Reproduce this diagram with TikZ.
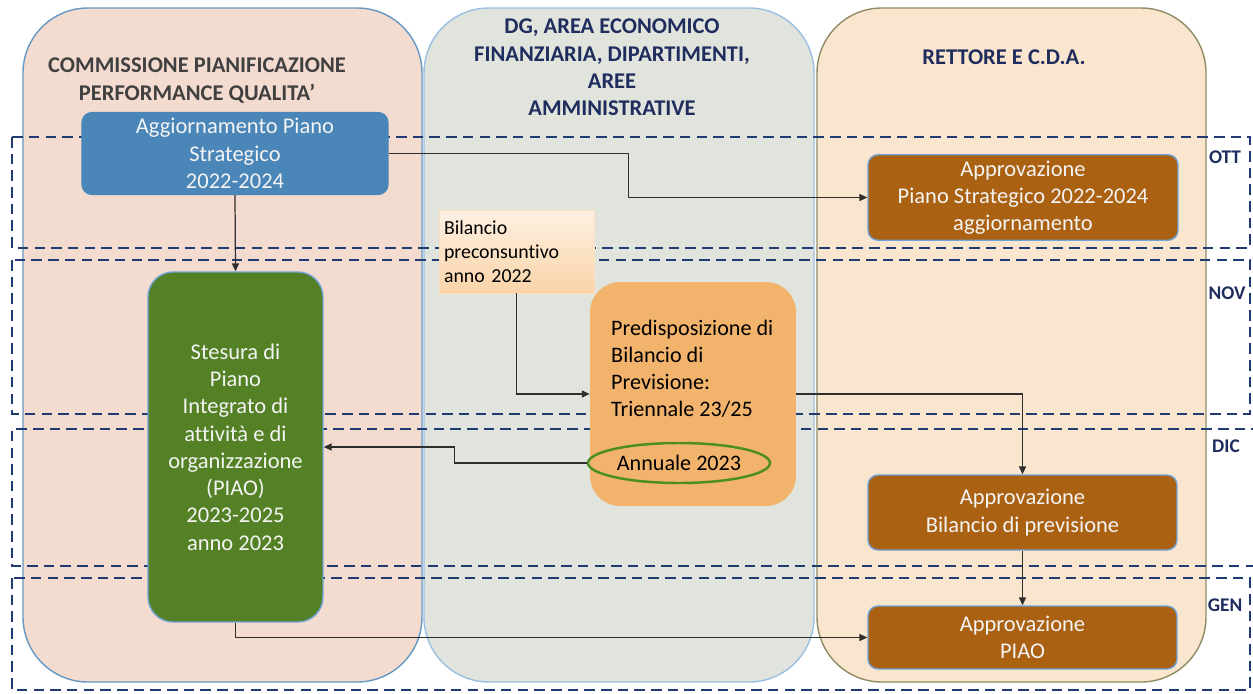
\documentclass[tikz,border=0pt]{standalone}
\usepackage{fontspec}
\setmainfont{Carlito}[Ligatures=NoCommon]
\usepackage{tikz}
\usetikzlibrary{arrows.meta, shapes.geometric}
\definecolor{navyColor}{HTML}{1F2D5E}
\definecolor{dashNavy}{HTML}{203A72}
\definecolor{laneLeft}{HTML}{F4DBD0}
\definecolor{laneMid}{HTML}{E1E4DC}
\definecolor{laneRight}{HTML}{FAE6CE}
\definecolor{blueBox}{HTML}{4A86B7}
\definecolor{brownBox}{HTML}{AA6111}
\definecolor{greenBox}{HTML}{548125}
\definecolor{orangeBox}{HTML}{F2B46C}
\definecolor{boxEdge}{HTML}{6FA3D6}
\definecolor{boxText}{HTML}{F4F4F4}
\definecolor{lineGray}{HTML}{2E2E2E}

\begin{document}
\begin{tikzpicture}[x=0.02cm, y=-0.02cm,
    laneshape/.style={rounded corners=1.3cm, line width=0.8pt},
    monthframe/.style={draw=dashNavy, dash pattern=on 6pt off 3.5pt, line width=1.1pt},
    boxnode/.style={rounded corners=0.2cm, draw=boxEdge, line width=0.8pt, text=boxText, align=center, font=\fontsize{12.8}{15.5}\selectfont},
    conn/.style={-{Triangle[length=4.5pt,width=4pt]}, draw=lineGray, line width=0.7pt},
    headtext/.style={font=\bfseries\fontsize{12.8}{15.5}\selectfont, align=center},
    monthlbl/.style={text=navyColor, font=\bfseries\fontsize{11}{13}\selectfont}]
    \useasboundingbox (0,0) rectangle (1253,693);

    % swimlanes
    \draw[laneshape, fill=laneLeft, draw=blueBox!85] (23,8) rectangle (422,682);
    \draw[laneshape, fill=laneMid, draw=boxEdge!70] (424,8) rectangle (814,682);
    \draw[laneshape, fill=laneRight, draw=gray!70!olive] (817,8) rectangle (1206,682);

    % months
    \draw[monthframe] (12,137) rectangle (1250,248);
    \draw[monthframe] (12,260) rectangle (1250,414);
    \draw[monthframe] (1262,429) -- (12,429) -- (12,566) -- (1262,566);
    \draw[monthframe] (12,578) rectangle (1250,690);
    \node[monthlbl] (ott) at (1225,157) {OTT};
    \node[monthlbl] (nov) at (1227,293) {NOV};
    \node[monthlbl] (dic) at (1226,446) {DIC};
    \node[monthlbl] (gen) at (1225,605) {GEN};

    % headers
    \node[headtext, text=black!75] (comm) at (197,80.5) {COMMISSIONE PIANIFICAZIONE\\PERFORMANCE QUALITA’};
    \node[headtext, text=navyColor] (dg) at (612,67.5) {DG, AREA ECONOMICO\\FINANZIARIA, DIPARTIMENTI,\\AREE\\AMMINISTRATIVE};
    \node[headtext, text=navyColor] (rett) at (1004,57) {RETTORE E C.D.A.};

    % activities
    \node[boxnode, fill=blueBox, draw=blueBox, minimum width=6.12cm, minimum height=1.62cm] (aggPS) at (235,153.5) {Aggiornamento Piano\\Strategico\\2022-2024};
    \node[boxnode, fill=brownBox, minimum width=6.2cm, minimum height=1.62cm] (appPS) at (1023,197.5) {Approvazione\\Piano Strategico 2022-2024\\aggiornamento};
    \node[top color=laneRight!60!white, bottom color=orange!18!laneRight, draw=orange!25, align=left, text width=2.9cm, inner xsep=0.1cm, minimum height=1.66cm, font=\fontsize{11.3}{13.6}\selectfont] (bilPre) at (516.5,251.5) {Bilancio\\preconsuntivo\\anno 2022};
    \node[boxnode, fill=greenBox, rounded corners=0.5cm, minimum width=3.5cm, minimum height=7cm] (stesura) at (235.5,447) {Stesura di\\Piano\\Integrato di\\attività e di\\organizzazione\\(PIAO)\\2023-2025\\anno 2023};
    \node[fill=orangeBox, rounded corners=0.6cm, minimum width=4.12cm, minimum height=4.48cm] (predisp) at (693,394) {};
    \node[anchor=west, align=left, font=\fontsize{12.6}{15.3}\selectfont] (predTxt) at (605,368.5) {Predisposizione di\\Bilancio di\\Previsione:\\Triennale 23/25};
    \node[ellipse, draw=greenBox!90!green, line width=1.4pt, minimum width=3.64cm, minimum height=0.8cm, inner sep=0pt, font=\fontsize{12.6}{15.3}\selectfont] (annuale) at (679,463) {Annuale 2023};
    \node[boxnode, fill=brownBox, minimum width=6.18cm, minimum height=1.5cm] (appBil) at (1022.5,512.5) {Approvazione\\Bilancio di previsione};
    \node[boxnode, fill=brownBox, minimum width=6.18cm, minimum height=1.26cm] (appPIAO) at (1022.5,637.5) {Approvazione\\PIAO};

    % flow
    \draw[conn] (aggPS.south) -- (stesura.north);
    \draw[conn] (aggPS.east) -- ++(240,0) |- (appPS.west);
    \draw[conn] (bilPre.south) |- (predisp.west);
    \draw[conn] (predisp.east) -| (appBil.north);
    \draw[conn] (annuale.west) -- ++(-132,0) |- (stesura.east);
    \draw[conn] (appBil.south) -- (appPIAO.north);
    \draw[conn] (stesura.south) |- (appPIAO.west);
\end{tikzpicture}
\end{document}
